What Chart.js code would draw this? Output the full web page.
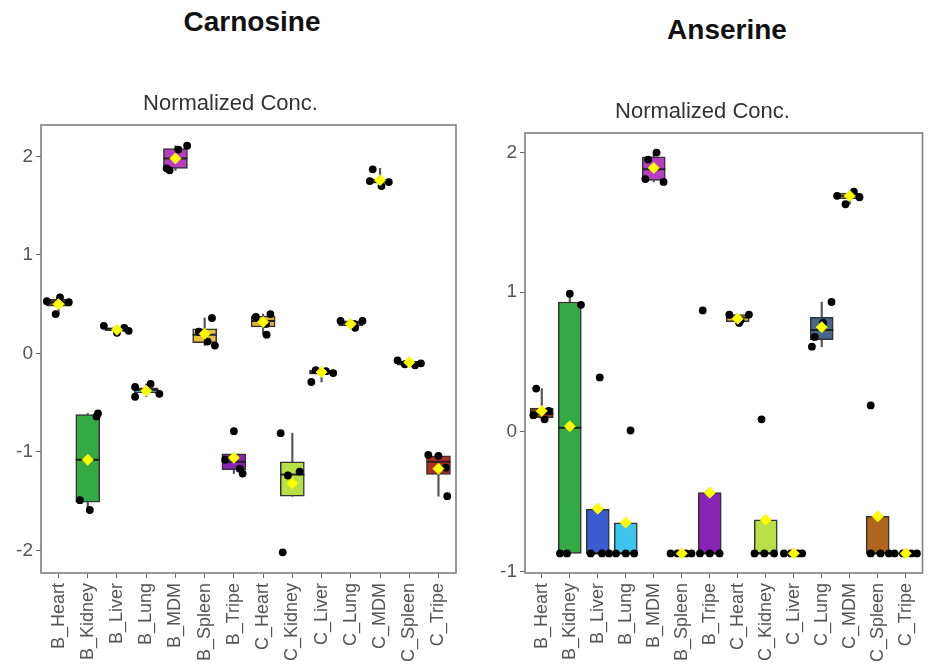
<!DOCTYPE html>
<html>
<head>
<meta charset="utf-8">
<script src="https://cdn.jsdelivr.net/npm/chart.js@4.4.0/dist/chart.umd.min.js"></script>
<style>
  body { margin: 0; background: #fff; width: 936px; height: 670px; overflow: hidden; position: relative; }
  .head { position: absolute; font-family: "Liberation Sans", Arial, sans-serif; font-weight: bold; font-size: 28px; color: #111; transform: translate(-50%, -50%); white-space: nowrap; }
  .panel { position: absolute; }
</style>
</head>
<body>
<div class="head" style="left:252px; top:22px;">Carnosine</div>
<div class="head" style="left:727px; top:30px;">Anserine</div>
<div class="panel" style="left:0; top:85px; width:470px; height:585px;"><canvas id="carn"></canvas></div>
<div class="panel" style="left:470px; top:93px; width:466px; height:577px;"><canvas id="anse"></canvas></div>
<script>
"use strict";

const categories = ["B_Heart", "B_Kidney", "B_Liver", "B_Lung", "B_MDM", "B_Spleen", "B_Tripe",
  "C_Heart", "C_Kidney", "C_Liver", "C_Lung", "C_MDM", "C_Spleen", "C_Tripe"];
const fills = ["#8b3a1c", "#33aa44", "#3b5bd0", "#3cc4ef", "#b83cc4", "#e8c13a", "#8a22b4",
  "#d9b13a", "#b8e046", "#e0d040", "#45658a", "#e6c84a", "#b0661e", "#b22c20"];

// Carnosine box stats
const carnQ1   = [0.48, -1.51, 0.23, -0.40, 1.88, 0.11, -1.18, 0.27, -1.45, -0.21, 0.28, 1.73, -0.12, -1.23];
const carnMed  = [0.52, -1.08, 0.25, -0.37, 1.98, 0.19, -1.10, 0.33, -1.23, -0.19, 0.31, 1.75, -0.10, -1.10];
const carnQ3   = [0.55, -0.62, 0.26, -0.35, 2.08, 0.25, -1.02, 0.38, -1.10, -0.17, 0.33, 1.77, -0.08, -1.04];
const carnLo   = [0.40, -1.59, 0.21, -0.44, 1.86, 0.08, -1.22, 0.19, -1.45, -0.29, 0.25, 1.70, -0.12, -1.45];
const carnHi   = [0.57, -0.61, 0.28, -0.31, 2.11, 0.36, -1.02, 0.40, -0.81, -0.17, 0.33, 1.88, -0.07, -1.03];
const carnMean = [0.50, -1.08, 0.24, -0.38, 1.98, 0.20, -1.06, 0.32, -1.32, -0.19, 0.30, 1.76, -0.09, -1.17];
// [category index, jitter, value]
const carnPoints = [
  [0, -0.4, 0.53], [0, 0.05, 0.57], [0, 0.35, 0.52], [0, -0.1, 0.40],
  [1, 0.35, -0.61], [1, 0.3, -0.64], [1, -0.27, -1.49], [1, 0.07, -1.59],
  [2, -0.45, 0.28], [2, 0.25, 0.26], [2, 0.4, 0.23], [2, 0.0, 0.21],
  [3, -0.38, -0.34], [3, -0.38, -0.44], [3, 0.15, -0.31], [3, 0.45, -0.41],
  [4, 0.4, 2.11], [4, 0.1, 2.07], [4, -0.3, 1.88], [4, -0.2, 1.86],
  [5, 0.25, 0.36], [5, -0.2, 0.22], [5, 0.1, 0.12], [5, 0.35, 0.08],
  [6, 0.0, -0.79], [6, -0.3, -1.08], [6, 0.2, -1.17], [6, 0.3, -1.22],
  [7, -0.25, 0.37], [7, 0.25, 0.40], [7, 0.1, 0.30], [7, 0.12, 0.19],
  [8, -0.4, -0.81], [8, -0.33, -2.02], [8, -0.15, -1.24], [8, 0.25, -1.20],
  [9, -0.35, -0.29], [9, -0.2, -0.17], [9, 0.15, -0.18], [9, 0.4, -0.20],
  [10, -0.35, 0.33], [10, 0.1, 0.30], [10, 0.4, 0.33], [10, 0.15, 0.26],
  [11, -0.25, 1.87], [11, -0.35, 1.75], [11, 0.3, 1.74], [11, 0.05, 1.70],
  [12, -0.4, -0.07], [12, -0.15, -0.11], [12, 0.2, -0.12], [12, 0.4, -0.10],
  [13, -0.35, -1.03], [13, 0.0, -1.04], [13, 0.25, -1.16], [13, 0.3, -1.45]
];

// Anserine box stats
const anseQ1   = [0.10, -0.87, -0.87, -0.87, 1.80, -0.87, -0.87, 0.79, -0.87, -0.87, 0.66, 1.67, -0.87, -0.87];
const anseMed  = [0.13, 0.03, -0.87, -0.87, 1.88, -0.87, -0.87, 0.82, -0.87, -0.87, 0.73, 1.69, -0.87, -0.87];
const anseQ3   = [0.17, 0.93, -0.555, -0.65, 1.97, -0.87, -0.435, 0.84, -0.63, -0.87, 0.82, 1.71, -0.605, -0.87];
const anseLo   = [0.08, -0.87, -0.87, -0.87, 1.79, -0.87, -0.87, 0.78, -0.87, -0.87, 0.61, 1.63, -0.87, -0.87];
const anseHi   = [0.31, 0.98, -0.555, -0.65, 2.00, -0.87, -0.435, 0.84, -0.63, -0.87, 0.93, 1.72, -0.605, -0.87];
const anseMean = [0.15, 0.04, -0.55, -0.65, 1.89, -0.87, -0.435, 0.81, -0.63, -0.87, 0.75, 1.69, -0.605, -0.87];
const ansePoints = [
  [0, -0.2, 0.31], [0, 0.25, 0.15], [0, 0.1, 0.09], [0, -0.3, 0.12],
  [1, 0.0, 0.99], [1, 0.4, 0.91], [1, -0.35, -0.87], [1, -0.1, -0.87],
  [2, 0.07, 0.39], [2, -0.25, -0.87], [2, 0.15, -0.87], [2, 0.4, -0.87],
  [3, 0.17, 0.01], [3, -0.35, -0.87], [3, 0.0, -0.87], [3, 0.3, -0.87],
  [4, 0.1, 2.00], [4, -0.2, 1.95], [4, -0.3, 1.81], [4, 0.35, 1.79],
  [5, -0.4, -0.87], [5, -0.15, -0.87], [5, 0.15, -0.87], [5, 0.35, -0.87],
  [6, -0.25, 0.87], [6, -0.35, -0.87], [6, 0.0, -0.87], [6, 0.35, -0.87],
  [7, -0.3, 0.84], [7, 0.05, 0.78], [7, 0.4, 0.84], [7, 0.1, 0.80],
  [8, -0.15, 0.09], [8, -0.4, -0.87], [8, -0.05, -0.87], [8, 0.3, -0.87],
  [9, -0.35, -0.87], [9, -0.1, -0.87], [9, 0.15, -0.87], [9, 0.3, -0.87],
  [10, 0.35, 0.93], [10, 0.05, 0.78], [10, -0.25, 0.68], [10, -0.35, 0.61],
  [11, -0.45, 1.69], [11, -0.15, 1.63], [11, 0.15, 1.72], [11, 0.35, 1.68],
  [12, -0.25, 0.19], [12, -0.25, -0.87], [12, 0.1, -0.87], [12, 0.4, -0.87],
  [13, -0.4, -0.87], [13, -0.1, -0.87], [13, 0.2, -0.87], [13, 0.4, -0.87]
];

const panelBorder = {
  id: "panelBorder",
  afterDatasetsDraw(chart) {
    const { ctx, chartArea: a } = chart;
    ctx.save();
    ctx.strokeStyle = "#7f7f7f";
    ctx.lineWidth = 1.6;
    ctx.strokeRect(a.left, a.top, a.right - a.left, a.bottom - a.top);
    ctx.restore();
  },
};

function makeChart(id, s, pts, yMin, yMax, yAxisWidth, padRight, boxWidth) {
  const idx = categories.map((c, i) => i);
  const datasets = [
    {
      type: "bar", order: 5, grouped: false, barThickness: 1.5,
      backgroundColor: "#555",
      data: idx.map((i) => ({ x: i, y: [s.lo[i], s.q1[i]] })),
    },
    {
      type: "bar", order: 5, grouped: false, barThickness: 1.5,
      backgroundColor: "#555",
      data: idx.map((i) => ({ x: i, y: [s.q3[i], s.hi[i]] })),
    },
    {
      type: "bar", order: 4, grouped: false, barThickness: boxWidth,
      backgroundColor: fills, borderColor: "#333", borderWidth: 1.5, borderSkipped: false,
      data: idx.map((i) => ({ x: i, y: [s.q1[i], s.q3[i]] })),
    },
    {
      type: "scatter", order: 3, pointStyle: "line", pointRadius: boxWidth / 2,
      borderColor: "#222", borderWidth: 2,
      data: idx.map((i) => ({ x: i, y: s.med[i] })),
    },
    {
      type: "scatter", order: 2, pointStyle: "circle", pointRadius: 3.9,
      backgroundColor: "#000", borderWidth: 0,
      data: pts.map((p) => ({ x: p[0] + p[1], y: p[2] })),
    },
    {
      type: "scatter", order: 1, pointStyle: "rectRot", pointRadius: 5.5,
      backgroundColor: "#ffff00", borderColor: "#f4f400", borderWidth: 1,
      data: idx.map((i) => ({ x: i, y: s.mean[i] })),
    },
  ];

  return new Chart(document.getElementById(id), {
    type: "bar",
    data: { datasets },
    plugins: [panelBorder],
    options: {
      responsive: true,
      maintainAspectRatio: false,
      animation: false,
      events: [],
      layout: { padding: { left: 0, right: padRight, top: 0, bottom: 0 } },
      plugins: {
        legend: { display: false },
        tooltip: { enabled: false },
        title: {
          display: true,
          text: "Normalized Conc.",
          color: "#333",
          font: { family: "Liberation Sans, Arial, sans-serif", size: 22, weight: "normal" },
          padding: { top: 6, bottom: 7.6 },
        },
      },
      scales: {
        x: {
          type: "linear",
          min: -0.6,
          max: 13.6,
          offset: false,
          afterBuildTicks: (scale) => {
            scale.ticks = idx.map((i) => ({ value: i }));
          },
          afterFit: (scale) => { scale.height = 97; },
          ticks: {
            autoSkip: false,
            minRotation: 90,
            maxRotation: 90,
            padding: 5,
            color: "#555",
            font: { family: "Liberation Sans, Arial, sans-serif", size: 18 },
            callback: (v) => categories[v],
          },
          grid: { offset: false, drawOnChartArea: false, drawTicks: true, tickLength: 5, color: "#666" },
          border: { display: false },
        },
        y: {
          min: yMin,
          max: yMax,
          afterFit: (scale) => { scale.width = yAxisWidth; },
          ticks: {
            stepSize: 1,
            includeBounds: false,
            padding: 3,
            color: "#555",
            font: { family: "Liberation Sans, Arial, sans-serif", size: 19 },
          },
          grid: { drawOnChartArea: false, drawTicks: true, tickLength: 5, color: "#666" },
          border: { display: false },
        },
      },
    },
  });
}

makeChart("carn",
  { q1: carnQ1, med: carnMed, q3: carnQ3, lo: carnLo, hi: carnHi, mean: carnMean },
  carnPoints, -2.23, 2.32, 41, 9, 24);
makeChart("anse",
  { q1: anseQ1, med: anseMed, q3: anseQ3, lo: anseLo, hi: anseHi, mean: anseMean },
  ansePoints, -1.01, 2.14, 55, 1, 23);
</script>
</body>
</html>
